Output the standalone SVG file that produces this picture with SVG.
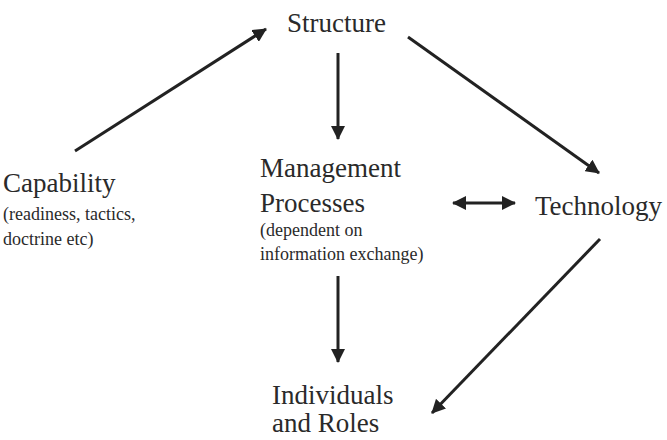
<svg xmlns="http://www.w3.org/2000/svg" width="667" height="440" viewBox="0 0 667 440">
<style>
text{font-family:Liberation Serif,Tinos,DejaVu Serif,Times New Roman,Times,serif;fill:#2a2a2a}
.big{font-size:27px}
.small{font-size:18px}
.edge{stroke:#222;stroke-width:3;fill:none}
</style>
<defs>
<marker id="ah" viewBox="0 0 14 14" refX="13" refY="7" markerWidth="14" markerHeight="14" markerUnits="userSpaceOnUse" orient="auto-start-reverse">
<path d="M0,0 L14,7 L0,14 Z" fill="#222"/>
</marker>
</defs>
<rect width="667" height="440" fill="#fff"/>
<g id="connectors">
<line class="edge" x1="75" y1="151" x2="266" y2="29" marker-end="url(#ah)"/>
<line class="edge" x1="408" y1="37" x2="599" y2="173" marker-end="url(#ah)"/>
<line class="edge" x1="338" y1="53" x2="338" y2="139" marker-end="url(#ah)"/>
<line class="edge" x1="338" y1="276" x2="338" y2="362" marker-end="url(#ah)"/>
<line class="edge" x1="600" y1="239" x2="432" y2="413" marker-end="url(#ah)"/>
<line class="edge" x1="453" y1="203" x2="515" y2="203" marker-start="url(#ah)" marker-end="url(#ah)"/>
</g>
<g id="structure"><text class="big" x="287" y="32">Structure</text></g>
<g id="capability">
<text class="big" x="3" y="192">Capability</text>
<text class="small" x="3" y="220">(readiness, tactics,</text>
<text class="small" x="3" y="245">doctrine etc)</text>
</g>
<g id="management">
<text class="big" x="260" y="177">Management</text>
<text class="big" x="260" y="212">Processes</text>
<text class="small" x="260" y="236">(dependent on</text>
<text class="small" x="260" y="260">information exchange)</text>
</g>
<g id="technology"><text class="big" x="535" y="215">Technology</text></g>
<g id="individuals">
<text class="big" x="272" y="404">Individuals</text>
<text class="big" x="272" y="432">and Roles</text>
</g>
</svg>
